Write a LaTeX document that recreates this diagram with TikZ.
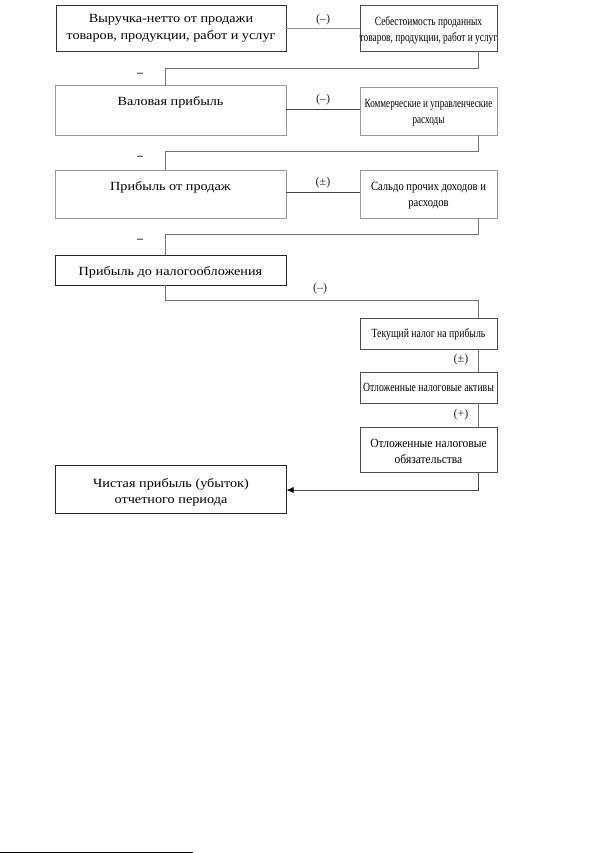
\documentclass[tikz,border=0pt]{standalone}
\usepackage{fontspec}
\setmainfont{Liberation Serif}
\newfontfamily\wideserif[FakeStretch=1.14]{Liberation Serif}
\newfontfamily\narrowserif[FakeStretch=0.78]{Liberation Serif}
\newfontfamily\komserif[FakeStretch=0.73]{Liberation Serif}
\newfontfamily\bserif[FakeStretch=0.75]{Liberation Serif}
\newfontfamily\midserif[FakeStretch=0.85]{Liberation Serif}
\newfontfamily\ooserif[FakeStretch=0.92]{Liberation Serif}
\usetikzlibrary{arrows.meta}
\begin{document}
\begin{tikzpicture}[x=1pt,y=-1pt,
  box/.style={draw=#1,line width=0.8pt,inner sep=0pt,outer sep=0pt},
  box/.default={black!75},
  ltxt/.style={font=\wideserif\fontsize{12.5}{17}\selectfont,align=center,inner sep=0pt,anchor=north},
  rtxt/.style={font=\narrowserif\fontsize{12.5}{16}\selectfont,align=center,inner sep=0pt,anchor=north},
  conn/.style={draw=black!55,line width=0.7pt},
  sign/.style={font=\fontsize{12}{14}\selectfont,inner sep=0pt,text=black!85},
  minus/.style={font=\bfseries\fontsize{12}{14}\selectfont,inner sep=0pt,text=black!90}]
\useasboundingbox (0,0) rectangle (596,853);
\coordinate (rx) at (478,0);
\coordinate (lx) at (165,0);
% boxes
\node[box=black!80,minimum width=230pt,minimum height=46pt] (A) at (171,28) {};
\node[ltxt] at (A.north) [yshift=-9pt] {Выручка-нетто от продажи\\товаров, продукции, работ и услуг};
\node[box=black!70,minimum width=137pt,minimum height=46pt] (B) at (428.5,28) {};
\node[rtxt,font=\bserif\fontsize{12.5}{16}\selectfont] at (B.north) [yshift=-11pt] {Себестоимость проданных\\товаров, продукции, работ и услуг};

\node[box=black!40,minimum width=231pt,minimum height=50pt] (V) at (170.5,110) {};
\node[ltxt] at (V.north) [yshift=-11pt] {Валовая прибыль};
\node[box=black!40,minimum width=137pt,minimum height=48pt] (K) at (428.5,111) {};
\node[rtxt,font=\komserif\fontsize{12.5}{16}\selectfont] at (K.north) [yshift=-12pt] {Коммерческие и управленческие\\расходы};

\node[box=black!40,minimum width=231pt,minimum height=48pt] (P) at (170.5,194) {};
\node[ltxt] at (P.north) [yshift=-11pt] {Прибыль от продаж};
\node[box=black!40,minimum width=137pt,minimum height=48pt] (S) at (428.5,194) {};
\node[rtxt,font=\midserif\fontsize{12.5}{16}\selectfont] at (S.north) [yshift=-12pt] {Сальдо прочих доходов и\\расходов};

\node[box=black!85,minimum width=231pt,minimum height=30pt] (N) at (170.5,270) {};
\node[ltxt] at (N.north) [yshift=-11pt] {Прибыль до налогообложения};

\node[box=black!70,minimum width=137pt,minimum height=31pt] (T) at (428.5,333.5) {};
\node[rtxt] at (T.north) [yshift=-10pt] {Текущий налог на прибыль};
\node[box=black!70,minimum width=137pt,minimum height=31pt] (OA) at (428.5,387.5) {};
\node[rtxt] at (OA.north) [yshift=-11pt] {Отложенные налоговые активы};
\node[box=black!70,minimum width=137pt,minimum height=45pt] (OO) at (428.5,449.5) {};
\node[rtxt,font=\ooserif\fontsize{12.5}{16}\selectfont] at (OO.north) [yshift=-12pt] {Отложенные налоговые\\обязательства};

\node[box=black!85,minimum width=231pt,minimum height=48pt] (CH) at (171,489) {};
\node[ltxt,font=\wideserif\fontsize{12.5}{16}\selectfont] at (CH.north) [yshift=-13pt] {Чистая прибыль (убыток)\\отчетного периода};

% horizontal links
\draw[conn,black!45] (A.east) -- (B.west) node[midway,above=3pt,sign] {(–)};
\draw[conn,black!75,line width=0.9pt] (V.east |- 0,109) -- (K.west |- 0,109) node[midway,above=3pt,sign] {(–)};
\draw[conn,black!75,line width=0.9pt] (P.east |- 0,192) -- (S.west |- 0,192) node[midway,above=3pt,sign] {(±)};

% vertical step links
\draw[conn] (B.south -| rx) -- ++(0,17) -| (V.north -| lx);
\node[minus] at (140,75) {–};
\draw[conn] (K.south -| rx) -- ++(0,16) -| (P.north -| lx);
\node[minus] at (140,158) {–};
\draw[conn] (S.south -| rx) -- ++(0,16) -| (N.north -| lx);
\node[minus] at (140,241) {–};
\draw[conn] (N.south -| lx) -- ++(0,15) -| (T.north -| rx);
\node[sign] at (320,289) {(–)};
\draw[conn] (T.south -| rx) -- (OA.north -| rx);
\node[sign] at (461,360) {(±)};
\draw[conn] (OA.south -| rx) -- (OO.north -| rx);
\node[sign] at (461,415) {(+)};
\draw[conn,black!70,-{Latex[length=7pt,width=6pt,fill=black,color=black]}] (OO.south -| rx) |- (CH.east |- 0,490);

% footnote rule
\draw[line width=1pt] (0,852) -- (193,852);
\end{tikzpicture}
\end{document}
